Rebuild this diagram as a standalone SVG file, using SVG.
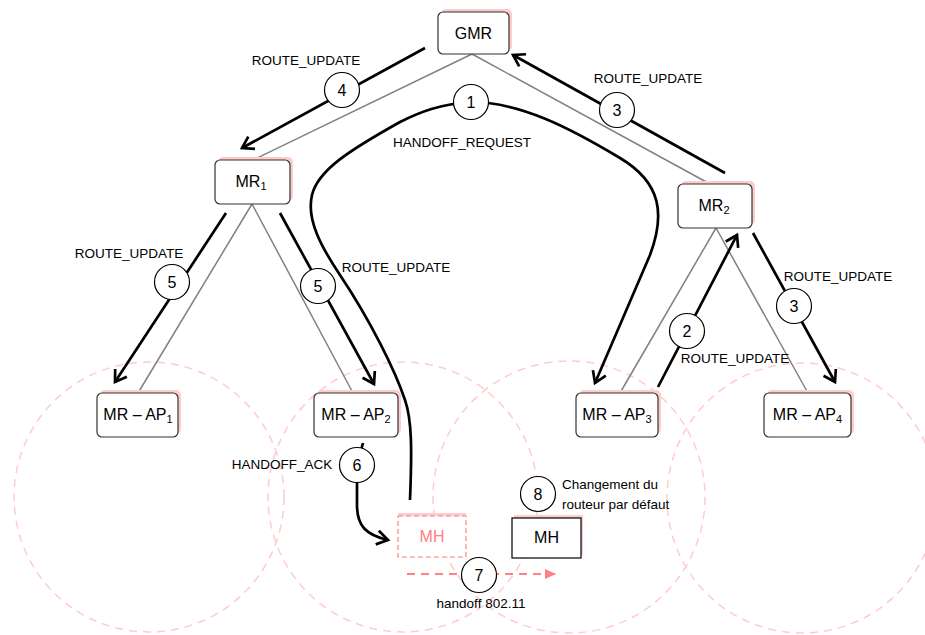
<svg xmlns="http://www.w3.org/2000/svg" width="925" height="635" viewBox="0 0 925 635">
<style>
.bg{fill:#fff}
.cov{fill:none;stroke:#ffcccc;stroke-width:1.5;stroke-dasharray:8 6}
.tree{fill:none;stroke:#808080;stroke-width:1.5}
.arr{fill:none;stroke:#000;stroke-width:2.7;marker-end:url(#open)}
.shadow{fill:#ffcccc}
.box{fill:#fff;stroke:#333;stroke-width:1.2}
.t{font-family:"Liberation Sans",Arial,sans-serif;fill:#000}
.nl{font-size:16px;text-anchor:middle}
.lbl{font-size:13.5px}
.mid{text-anchor:middle}
.num{fill:#fff;stroke:#000;stroke-width:1.2}
.numt{font-size:16px;text-anchor:middle}
.pink{fill:#ff8080}
</style>
<defs>
<marker id="open" markerUnits="userSpaceOnUse" markerWidth="16" markerHeight="18" viewBox="0 0 16 18" refX="13" refY="9" orient="auto">
<path d="M2,2 L13,9 L2,16" fill="none" stroke="#000" stroke-width="2.7"/>
</marker>
<marker id="tri" markerUnits="userSpaceOnUse" markerWidth="12" markerHeight="12" viewBox="0 0 12 12" refX="11" refY="6" orient="auto">
<path d="M0,1 L11,6 L0,11 Z" fill="#ff8080"/>
</marker>
</defs>
<rect class="bg" x="0" y="0" width="925" height="635"/>

<g id="coverage">
<circle class="cov" cx="149" cy="497" r="135"/>
<circle class="cov" cx="403" cy="497" r="135"/>
<circle class="cov" cx="569" cy="497" r="136"/>
<circle class="cov" cx="802" cy="498" r="135"/>
</g>

<g id="connectors">
<g id="tree-links">
<line class="tree" x1="472" y1="54" x2="253" y2="160"/>
<line class="tree" x1="472" y1="54" x2="710" y2="184"/>
<line class="tree" x1="252" y1="204" x2="138" y2="393"/>
<line class="tree" x1="252" y1="204" x2="353" y2="393"/>
<line class="tree" x1="716" y1="228" x2="620" y2="393"/>
<line class="tree" x1="716" y1="228" x2="808" y2="393"/>
</g>
<g id="messages">
<path class="arr" d="M425,48 L242,148"/>
<path class="arr" d="M725,173 L513,55"/>
<path class="arr" d="M658,387 L737,235"/>
<path class="arr" d="M753,233 L835,382"/>
<path class="arr" d="M226,213 L115,382"/>
<path class="arr" d="M280,213 L374,384"/>
<path class="arr" d="M410,500 C412,450 412,420 405,400 C395,370 370,320 340,275 C322,248 306,220 312,195 C318,170 350,150 400,122 C420,112 440,104 471,102 C520,102 570,128 620,158 C662,183 665,215 650,255 L595,383"/>
<path class="arr" d="M363,443 L357,465 L357,505 C357,526 366,535 388,540"/>
<path d="M407,574 L556,574" fill="none" stroke="#ff8080" stroke-width="2" stroke-dasharray="8 6" marker-end="url(#tri)"/>
</g>
<g id="step-numbers">
<circle class="num" cx="471" cy="102" r="17.5"/><text class="t numt" x="471" y="108">1</text>
<circle class="num" cx="342" cy="90" r="17.5"/><text class="t numt" x="342" y="96">4</text>
<circle class="num" cx="617" cy="110" r="17.5"/><text class="t numt" x="617" y="116">3</text>
<circle class="num" cx="687" cy="331" r="17.5"/><text class="t numt" x="687" y="337">2</text>
<circle class="num" cx="794" cy="306" r="17.5"/><text class="t numt" x="794" y="312">3</text>
<circle class="num" cx="172" cy="282" r="17.5"/><text class="t numt" x="172" y="288">5</text>
<circle class="num" cx="318" cy="286" r="17.5"/><text class="t numt" x="318" y="292">5</text>
<circle class="num" cx="357" cy="465" r="17.5"/><text class="t numt" x="357" y="471">6</text>
<circle class="num" cx="479" cy="575" r="17.5"/><text class="t numt" x="479" y="581">7</text>
<circle class="num" cx="538" cy="494" r="17.5"/><text class="t numt" x="538" y="500">8</text>
</g>
<g id="message-labels">
<text class="t lbl mid" x="306" y="65">ROUTE_UPDATE</text>
<text class="t lbl mid" x="462" y="147">HANDOFF_REQUEST</text>
<text class="t lbl mid" x="648" y="83">ROUTE_UPDATE</text>
<text class="t lbl mid" x="129" y="258">ROUTE_UPDATE</text>
<text class="t lbl mid" x="396" y="272">ROUTE_UPDATE</text>
<text class="t lbl mid" x="838" y="281">ROUTE_UPDATE</text>
<text class="t lbl mid" x="735" y="363">ROUTE_UPDATE</text>
<text class="t lbl mid" x="282" y="469">HANDOFF_ACK</text>
<text class="t lbl" x="562" y="489">Changement du</text>
<text class="t lbl" x="562" y="509">routeur par défaut</text>
<text class="t lbl mid" x="481" y="608">handoff 802.11</text>
</g>
</g>

<g id="GMR">
<rect class="shadow" x="441" y="9" width="71" height="42" rx="5"/>
<rect class="box" x="438" y="12" width="71" height="42" rx="5"/>
<text class="t nl" x="473.5" y="38.5">GMR</text>
</g>
<g id="MR1">
<rect class="shadow" x="218" y="157" width="75" height="44" rx="5"/>
<rect class="box" x="215" y="160" width="75" height="44" rx="5"/>
<text class="t nl" x="251" y="187">MR<tspan font-size="11" dy="3">1</tspan></text>
</g>
<g id="MR2">
<rect class="shadow" x="681" y="181" width="74" height="44" rx="5"/>
<rect class="box" x="678" y="184" width="74" height="44" rx="5"/>
<text class="t nl" x="714" y="211">MR<tspan font-size="11" dy="3">2</tspan></text>
</g>
<g id="MR-AP1">
<rect class="shadow" x="100" y="390" width="81" height="44" rx="5"/>
<rect class="box" x="97" y="393" width="81" height="44" rx="5"/>
<text class="t nl" x="138" y="420">MR – AP<tspan font-size="11" dy="3">1</tspan></text>
</g>
<g id="MR-AP2">
<rect class="shadow" x="317" y="390" width="84" height="44" rx="5"/>
<rect class="box" x="314" y="393" width="84" height="44" rx="5"/>
<text class="t nl" x="356" y="420">MR – AP<tspan font-size="11" dy="3">2</tspan></text>
</g>
<g id="MR-AP3">
<rect class="shadow" x="579" y="390" width="82" height="44" rx="5"/>
<rect class="box" x="576" y="393" width="82" height="44" rx="5"/>
<text class="t nl" x="617" y="420">MR – AP<tspan font-size="11" dy="3">3</tspan></text>
</g>
<g id="MR-AP4">
<rect class="shadow" x="767" y="390" width="87" height="44" rx="5"/>
<rect class="box" x="764" y="393" width="87" height="44" rx="5"/>
<text class="t nl" x="807.5" y="420">MR – AP<tspan font-size="11" dy="3">4</tspan></text>
</g>
<g id="MH-old">
<rect class="shadow" x="398" y="513" width="68" height="41"/>
<rect x="398" y="516" width="68" height="41" fill="#fff" stroke="#ff8080" stroke-width="1.2" stroke-dasharray="5 3"/>
<text class="t nl pink" x="432" y="542">MH</text>
</g>
<g id="MH-new">
<rect class="shadow" x="514" y="515" width="69" height="40"/>
<rect x="512" y="518" width="69" height="40" fill="#fff" stroke="#000" stroke-width="1.2"/>
<text class="t nl" x="546.5" y="543">MH</text>
</g>
</svg>
